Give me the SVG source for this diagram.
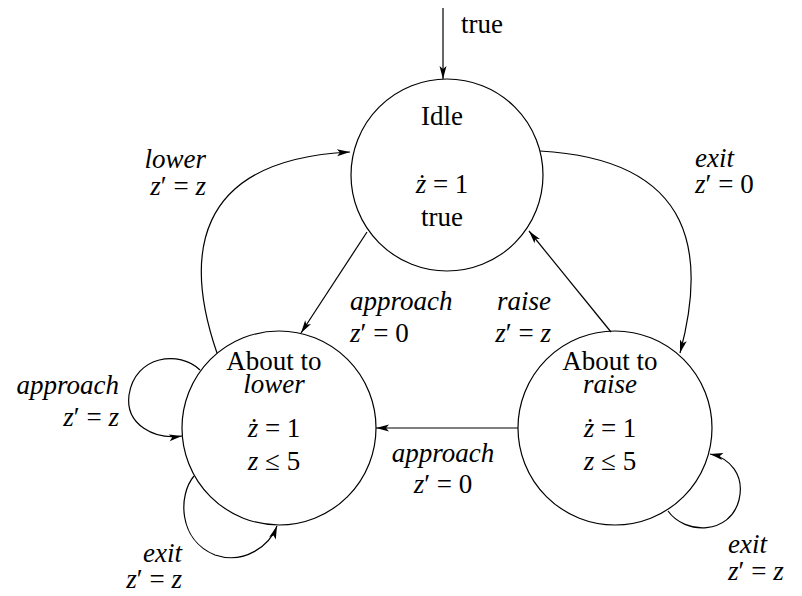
<svg xmlns="http://www.w3.org/2000/svg" width="802" height="596" viewBox="0 0 802 596" font-family="Times New Roman, Liberation Serif, DejaVu Serif, serif">
<style>
text{font-size:27px;fill:#000}
.i{font-style:italic}
.m{text-anchor:middle}
.e{text-anchor:end}
.node{fill:none;stroke:#000;stroke-width:1.2}
.c{fill:none;stroke:#000;stroke-width:1.2;marker-end:url(#arr)}
</style>
<defs>
<marker id="arr" viewBox="-14 -5 15 10" refX="0" refY="0" markerWidth="15" markerHeight="10" markerUnits="userSpaceOnUse" orient="auto">
<path d="M-13,-3.5 L0,0 L-13,3.5 L-10,0 z" fill="#000"/>
</marker>
</defs>
<rect width="802" height="596" fill="#fff"/>
<g id="connectors">
<path class="c" d="M443,8 L443,79"/>
<path class="c" d="M217,353 C185,260 190,160 350,152"/>
<path class="c" d="M540,151 C700,160 705,260 680,353"/>
<path class="c" d="M367,232 L301,333"/>
<path class="c" d="M611,332 L529,231"/>
<path class="c" d="M518,428 L376,428"/>
<path class="c" d="M200,370 C180,350 135,355 129,395 C125,425 155,440 182,436"/>
<path class="c" d="M194,476 C178,495 178,540 215,555 C245,565 270,545 277,526"/>
<path class="c" d="M668,511 C685,535 730,535 739,500 C745,475 730,458 710,454"/>
</g>
<g id="labels">
<text x="461" y="33">true</text>
<text class="i e" x="206" y="168">lower</text>
<text class="e" x="206" y="195"><tspan class="i">z</tspan>′ = <tspan class="i">z</tspan></text>
<text class="i" x="695" y="167">exit</text>
<text x="695" y="193"><tspan class="i">z</tspan>′ = 0</text>
<text class="i" x="350" y="310">approach</text>
<text x="350" y="342"><tspan class="i">z</tspan>′ = 0</text>
<text class="i e" x="551" y="310">raise</text>
<text class="e" x="551" y="342"><tspan class="i">z</tspan>′ = <tspan class="i">z</tspan></text>
<text class="i m" x="443" y="462">approach</text>
<text class="m" x="443" y="493"><tspan class="i">z</tspan>′ = 0</text>
<text class="i e" x="119" y="394">approach</text>
<text class="e" x="119" y="426"><tspan class="i">z</tspan>′ = <tspan class="i">z</tspan></text>
<text class="i e" x="182" y="562">exit</text>
<text class="e" x="182" y="588"><tspan class="i">z</tspan>′ = <tspan class="i">z</tspan></text>
<text class="i" x="728" y="553">exit</text>
<text x="728" y="580"><tspan class="i">z</tspan>′ = <tspan class="i">z</tspan></text>
</g>
<g id="idle">
<circle class="node" cx="447" cy="175" r="96"/>
<text class="m" x="442" y="125">Idle</text>
<text class="m" x="442" y="193"><tspan class="i">ż</tspan> = 1</text>
<text class="m" x="442" y="226">true</text>
</g>
<g id="about-to-lower">
<circle class="node" cx="279" cy="428" r="97"/>
<text class="m" x="274" y="370">About to</text>
<text class="m i" x="274" y="393">lower</text>
<text class="m" x="274" y="437"><tspan class="i">ż</tspan> = 1</text>
<text class="m" x="274" y="470"><tspan class="i">z</tspan> ≤ 5</text>
</g>
<g id="about-to-raise">
<circle class="node" cx="615" cy="428" r="97"/>
<text class="m" x="610" y="370">About to</text>
<text class="m i" x="610" y="393">raise</text>
<text class="m" x="610" y="437"><tspan class="i">ż</tspan> = 1</text>
<text class="m" x="610" y="470"><tspan class="i">z</tspan> ≤ 5</text>
</g>
</svg>
